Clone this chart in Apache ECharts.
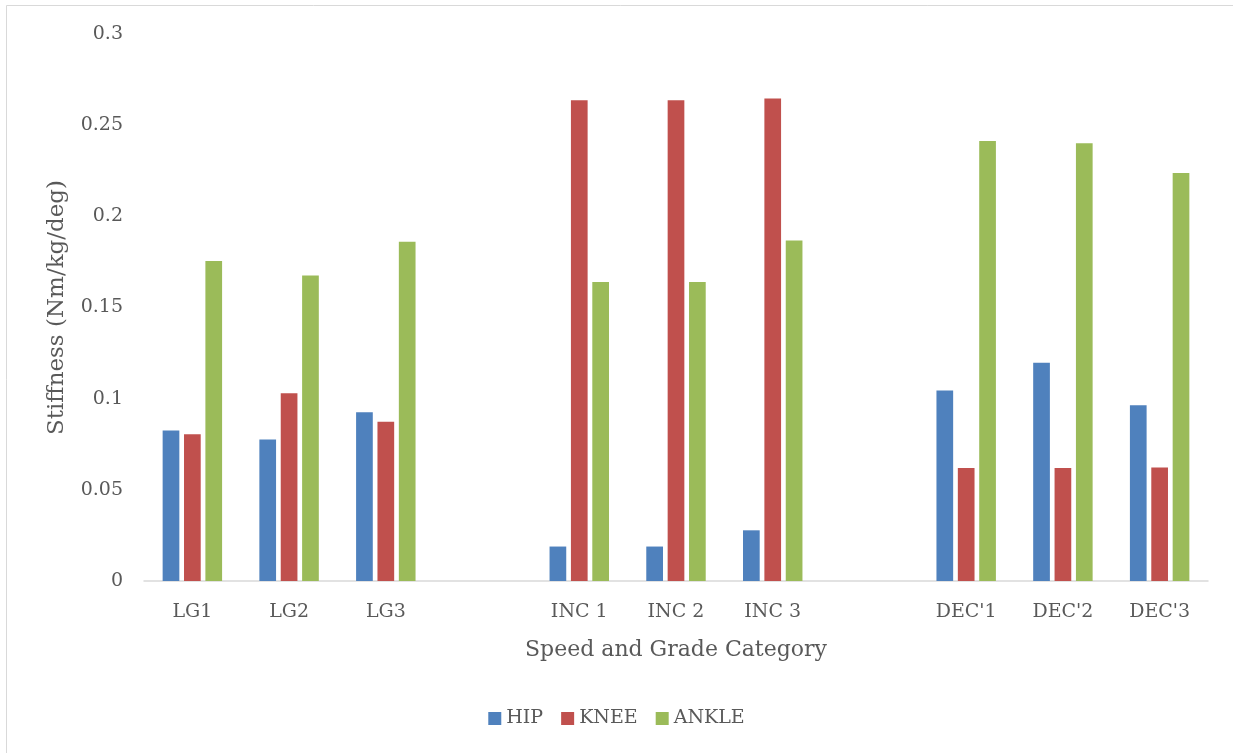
<!DOCTYPE html>
<html>
<head>
<meta charset="utf-8">
<title>Joint stiffness by speed and grade</title>
<script src="https://cdn.jsdelivr.net/npm/echarts@6/dist/echarts.min.js"></script>
<style>
  html, body { margin: 0; padding: 0; background: #ffffff; }
  #chart { width: 1233px; height: 753px; }
</style>
</head>
<body>
<div id="chart"></div>
<script>
// Conditions along the x axis; empty entries leave a gap between groups
const categories = ['LG1', 'LG2', 'LG3', '', 'INC 1', 'INC 2', 'INC 3', '', "DEC'1", "DEC'2", "DEC'3"];

// Stiffness per joint (Nm/kg/deg); null marks the gap slots
const hip   = [0.0825, 0.0776, 0.0926, null, 0.0189, 0.0189, 0.0278, null, 0.1045, 0.1197, 0.0964];
const knee  = [0.0805, 0.1030, 0.0873, null, 0.2637, 0.2637, 0.2646, null, 0.0620, 0.0620, 0.0622];
const ankle = [0.1755, 0.1676, 0.1860, null, 0.1640, 0.1640, 0.1868, null, 0.2413, 0.2401, 0.2238];

const seriesNames = ['HIP', 'KNEE', 'ANKLE'];
const yTicks = [0, 0.05, 0.1, 0.15, 0.2, 0.25, 0.3];

const font = '"DejaVu Serif", "Liberation Serif", serif';
const textColor = '#595959';

const chart = echarts.init(document.getElementById('chart'), null, { renderer: 'canvas' });

const barStyle = (color) => ({
  type: 'bar',
  barWidth: 16.7,
  barGap: '28%',
  itemStyle: { color: color },
  emphasis: { disabled: true }
});

chart.setOption({
  animation: false,
  backgroundColor: '#ffffff',
  textStyle: { fontFamily: font, color: textColor },
  graphic: [{
    type: 'rect',
    shape: { x: 6.5, y: 5.5, width: 1400, height: 900 },
    style: { fill: 'none', stroke: '#d9d9d9', lineWidth: 1 },
    silent: true,
    z: -10
  }],
  grid: { left: 144, right: 25, top: 34, bottom: 172 },
  legend: {
    data: seriesNames,
    bottom: 20,
    left: 'center',
    icon: 'rect',
    itemWidth: 13,
    itemHeight: 13,
    itemGap: 18,
    textStyle: { fontFamily: font, fontSize: 19, color: textColor }
  },
  xAxis: {
    type: 'category',
    data: categories,
    name: 'Speed and Grade Category',
    nameLocation: 'middle',
    nameGap: 58,
    nameTextStyle: { fontFamily: font, fontSize: 22, color: textColor },
    axisLine: { lineStyle: { color: '#d9d9d9', width: 1.5 } },
    axisTick: { show: false },
    axisLabel: { fontFamily: font, fontSize: 19, color: textColor, margin: 22, interval: 0 },
    splitLine: { show: false }
  },
  yAxis: {
    type: 'value',
    min: 0,
    max: 0.3,
    interval: 0.05,
    name: 'Stiffness (Nm/kg/deg)',
    nameLocation: 'middle',
    nameGap: 75,
    nameTextStyle: { fontFamily: font, fontSize: 23, color: textColor },
    axisLine: { show: false },
    axisTick: { show: false },
    splitLine: { show: false },
    axisLabel: {
      fontFamily: font, fontSize: 19, color: textColor, margin: 21,
      formatter: (v) => {
        const t = yTicks.find(x => Math.abs(x - v) < 1e-9);
        return t === undefined ? '' : String(t);
      }
    }
  },
  series: [
    Object.assign({ name: seriesNames[0], data: hip }, barStyle('#4f81bd')),
    Object.assign({ name: seriesNames[1], data: knee }, barStyle('#c0504d')),
    Object.assign({ name: seriesNames[2], data: ankle }, barStyle('#9bbb59'))
  ]
});
</script>
</body>
</html>
